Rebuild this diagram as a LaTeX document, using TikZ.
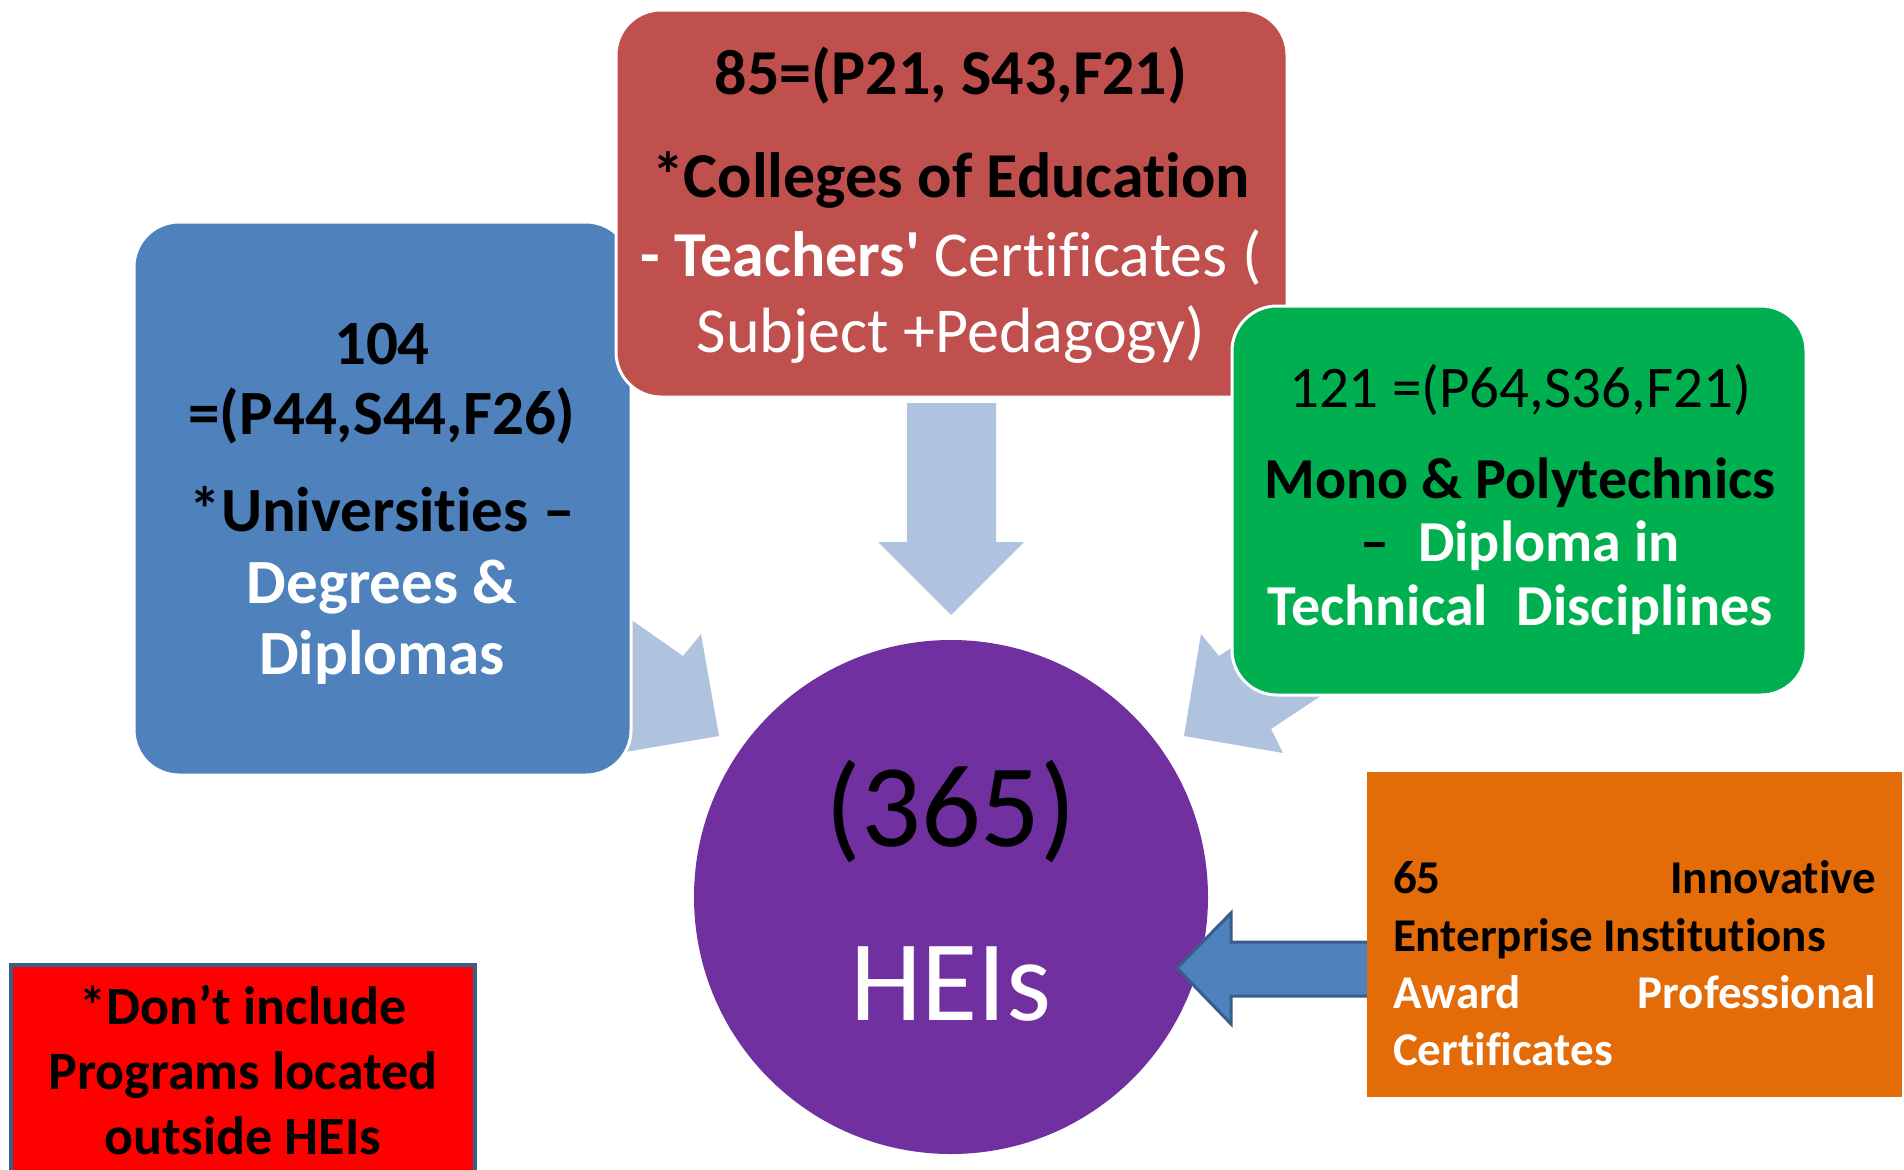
\documentclass[tikz,border=0pt]{standalone}
\usepackage{fontspec}
\setmainfont{Carlito}[Ligatures={NoCommon}]
\newfontfamily\rawfont{Carlito}[Ligatures={ResetAll,NoCommon}]
\definecolor{boxblue}{HTML}{4F81BD}
\definecolor{boxred}{HTML}{C0504D}
\definecolor{boxgreen}{HTML}{00B050}
\definecolor{boxorange}{HTML}{E36C09}
\definecolor{lightarrow}{HTML}{B0C3DE}
\definecolor{hpurple}{HTML}{7030A0}
\definecolor{darkblue}{HTML}{385D8A}
\begin{document}
\begin{tikzpicture}[x=1pt,y=-1pt,
  panel/.style={draw=white,line width=3pt,rounded corners=45pt},
  ln/.style={anchor=base,inner sep=0pt,outer sep=0pt},
  redtxt/.style={ln,font=\fontsize{64}{77}\selectfont},
  bluetxt/.style={ln,font=\fontsize{63}{70}\selectfont\bfseries},
  greentxt/.style={ln,font=\fontsize{58}{66}\selectfont},
  orangetxt/.style={ln,anchor=base west,font=\fontsize{47}{57}\selectfont\bfseries},
  notetxt/.style={ln,font=\fontsize{54}{65}\selectfont\bfseries},
  flowarrow/.style={fill=lightarrow}]
\useasboundingbox[fill=white] (0,0) rectangle (1904,1170);

% light arrows behind the panels
\fill[flowarrow] (907,403) -- (996,403) -- (996,542) -- (1024,542) -- (951,615) -- (878,542) -- (907,542) -- cycle;
\fill[flowarrow] (719,736) -- (701,634) -- (683,656) -- (560,570) -- (520,640) -- (631,729) -- (619,753) -- cycle;
\fill[flowarrow] (1184,736) -- (1201,634) -- (1219,656) -- (1310,596) -- (1360,670) -- (1271,729) -- (1283,753) -- cycle;

% panels
\node[panel,fill=boxblue,minimum width=497pt,minimum height=553pt,inner sep=0pt] (blue) at (382.5,498.5) {};
\node[panel,fill=boxred,minimum width=671pt,minimum height=387pt,inner sep=0pt] (red) at (951.5,203.5) {};
\node[panel,fill=boxgreen,minimum width=574pt,minimum height=389pt,inner sep=0pt] (green) at (1519,500.5) {};

% red panel text
\node[redtxt,font=\fontsize{64}{77}\selectfont\bfseries] (r1) at (951,94) {85=(P21, S43,F21)};
\node[redtxt,font=\fontsize{64}{77}\selectfont\bfseries] (r2) at (951,197) {*Colleges of Education};
\node[redtxt,text=white] (r3) at (951,276) {\textbf{- Teachers{\rawfont '}} Certificates (};
\node[redtxt,text=white] (r4) at (951,352) {Subject +Pedagogy)};

% blue panel text
\node[bluetxt] (b1) at (382,364) {104};
\node[bluetxt] (b2) at (382,434) {=(P44,S44,F26)};
\node[bluetxt] (b3) at (382,531) {*Universities --};
\node[bluetxt,text=white] (b4) at (382,603) {Degrees \&};
\node[bluetxt,text=white] (b5) at (382,674) {Diplomas};

% green panel text
\node[greentxt,font=\fontsize{59}{66}\selectfont] (g1) at (1520,407) {121 =(P64,S36,F21)};
\node[greentxt,font=\fontsize{58}{66}\selectfont\bfseries] (g2) at (1520,498) {Mono \& Polytechnics};
\node[greentxt,font=\fontsize{58}{66}\selectfont\bfseries] (g3) at (1520,561) {--\enspace\textcolor{white}{Diploma in}};
\node[greentxt,font=\fontsize{58}{66}\selectfont\bfseries,text=white] (g4) at (1520,625) {Technical\enspace Disciplines};

% circle
\node[circle,fill=hpurple,minimum size=514pt,inner sep=0pt] (hei) at (951,897) {};
\node[ln,font=\fontsize{118}{120}\selectfont] (h1) at (951,846) {(365)};
\node[ln,font=\fontsize{115}{120}\selectfont,text=white] (h2) at (951,1020) {HEIs};

% orange box
\node[fill=boxorange,minimum width=535pt,minimum height=325pt,inner sep=0pt] (orange) at (1634.5,934.5) {};
\node[orangetxt] (o1) at (1393,893) {\hbox to 483pt{65\hfill Innovative}};
\node[orangetxt] (o2) at (1393,951) {Enterprise Institutions};
\node[orangetxt,text=white] (o3) at (1393,1008) {\hbox to 483pt{Award\hfill Professional}};
\node[orangetxt,text=white] (o4) at (1393,1065) {Certificates};

% blue block arrow from orange box to circle
\coordinate (tip) at (1177,968);
\draw[fill=boxblue,draw=darkblue,line width=3pt,line join=miter]
  (orange.west |- 0,942) -- (1231,942) -- (1231,913) -- (tip) -- (1231,1024) -- (1231,996) -- (orange.west |- 0,996);

% note box
\node[draw=darkblue,line width=4pt,fill=red,minimum width=464pt,minimum height=230pt,inner sep=0pt] (note) at (243,1080) {};
\node[notetxt] (n1) at (243,1024) {*Don’t include};
\node[notetxt] (n2) at (243,1089) {Programs located};
\node[notetxt] (n3) at (243,1154) {outside HEIs};
\end{tikzpicture}
\end{document}
